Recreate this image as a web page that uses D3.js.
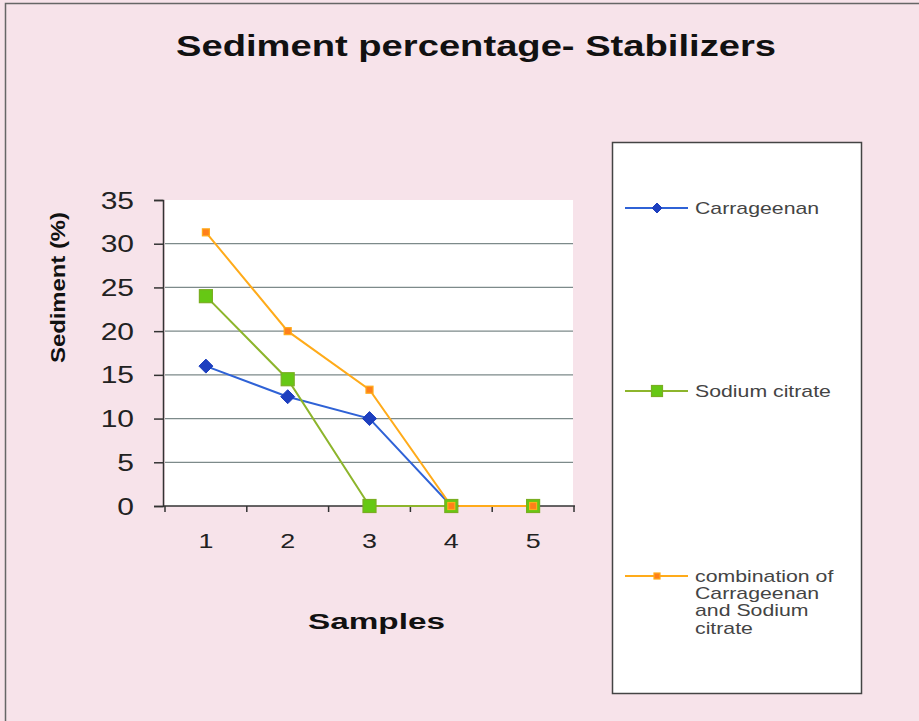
<!DOCTYPE html>
<html>
<head>
<meta charset="utf-8">
<script src="https://cdn.jsdelivr.net/npm/d3@7"></script>
<style>
  html, body { margin: 0; padding: 0; background: #f7e3ea; }
  svg { display: block; }
</style>
</head>
<body>
<svg id="chart" width="919" height="721"></svg>
<script>
// Sediment (%) per sample for each stabilizer
const samples = ["1", "2", "3", "4", "5"];
const yTicks = [0, 5, 10, 15, 20, 25, 30, 35];
const carrageenan = [16, 12.5, 10, 0, 0];
const sodiumCitrate = [24, 14.5, 0, 0, 0];
const combination = [31.3, 20, 13.3, 0, 0];
const seriesNames = ["Carrageenan", "Sodium citrate", "combination of Carrageenan and Sodium citrate"];

const series = [
  { name: seriesNames[0], values: carrageenan, line: "#2f62d6", fill: "#1d3fbf", stroke: "#1d3fbf", shape: "diamond", size: 7 },
  { name: seriesNames[1], values: sodiumCitrate, line: "#8db52c", fill: "#66c814", stroke: "#7aae22", shape: "square", size: 13 },
  { name: seriesNames[2], values: combination, line: "#ffab1a", fill: "#ff7f1a", stroke: "#ffab1a", shape: "square", size: 7 }
];

const svg = d3.select("#chart");
const font = "Arial, 'Liberation Sans', sans-serif";

// text drawn with a horizontal stretch
function wideText(g, x, y, str, o) {
  return g.append("text")
    .attr("transform", `translate(${x},${y}) scale(${o.sx || 1},1)`)
    .attr("text-anchor", o.anchor || "start")
    .attr("dy", o.dy || 0)
    .attr("font-family", font)
    .attr("font-weight", o.bold ? "bold" : "normal")
    .attr("font-size", o.size)
    .attr("fill", o.fill || "#111")
    .text(str);
}

// outer frame
svg.append("rect").attr("x", 5.5).attr("y", 3.5).attr("width", 930).attr("height", 740)
  .attr("fill", "#f7e3ea").attr("stroke", "#666").attr("stroke-width", 1.5);

const plot = { left: 165, right: 573, top: 200, bottom: 506 };

const x = d3.scaleBand().domain(samples).range([plot.left, plot.right + 1]).padding(0);
const y = d3.scaleLinear().domain([0, 35]).range([plot.bottom, plot.top]);

// plot background
svg.append("rect").attr("x", plot.left).attr("y", plot.top)
  .attr("width", plot.right - plot.left).attr("height", plot.bottom - plot.top)
  .attr("fill", "#ffffff");

// horizontal gridlines
svg.append("g").selectAll("line").data(yTicks.filter(d => d > 0 && d < 35)).join("line")
  .attr("x1", plot.left).attr("x2", plot.right)
  .attr("y1", d => y(d)).attr("y2", d => y(d))
  .attr("stroke", "#7d8a8a").attr("stroke-width", 1.3);

// y axis (line and ticks from d3, labels stretched separately)
const yAxis = svg.append("g").attr("transform", `translate(${plot.left - 2},0)`)
  .call(d3.axisLeft(y).tickValues(yTicks).tickSize(9).tickFormat(""));
yAxis.select(".domain").attr("stroke", "#333").attr("stroke-width", 1.5);
yAxis.selectAll(".tick line").attr("stroke", "#333").attr("stroke-width", 1.5);
const yLab = svg.append("g");
yTicks.forEach(t => {
  wideText(yLab, 134, y(t), String(t), { size: 24, sx: 1.25, anchor: "end", dy: "0.36em", fill: "#222" });
});

// x axis: ticks at band edges, labels at band centres
const xAxisG = svg.append("g").attr("transform", `translate(0,${plot.bottom})`);
xAxisG.append("line").attr("x1", plot.left - 2).attr("x2", plot.right + 2)
  .attr("y1", 0).attr("y2", 0).attr("stroke", "#333").attr("stroke-width", 1.5);
const edges = samples.map(s => x(s)).concat([x(samples[samples.length - 1]) + x.bandwidth()]);
xAxisG.selectAll("line.tk").data(edges).join("line").attr("class", "tk")
  .attr("x1", d => d).attr("x2", d => d).attr("y1", 0).attr("y2", 6)
  .attr("stroke", "#333").attr("stroke-width", 1.5);
samples.forEach(s => {
  wideText(xAxisG, x(s) + x.bandwidth() / 2, 42, s, { size: 21, sx: 1.28, anchor: "middle", fill: "#222" });
});

// lines and markers
const cx = (d, i) => x(samples[i]) + x.bandwidth() / 2;
const line = d3.line().x((d, i) => cx(d, i)).y(d => y(d));

series.forEach(s => {
  svg.append("path").datum(s.values).attr("d", line)
    .attr("fill", "none").attr("stroke", s.line).attr("stroke-width", 2);
});

function marker(g, s, px, py) {
  if (s.shape === "diamond") {
    const r = s.size;
    g.append("path")
      .attr("d", `M${px},${py - r}L${px + r},${py}L${px},${py + r}L${px - r},${py}Z`)
      .attr("fill", s.fill).attr("stroke", s.stroke).attr("stroke-width", 1);
  } else {
    const h = s.size / 2;
    g.append("rect").attr("x", px - h).attr("y", py - h).attr("width", s.size).attr("height", s.size)
      .attr("fill", s.fill).attr("stroke", s.stroke).attr("stroke-width", 1.2);
  }
}

const markers = svg.append("g");
series.forEach(s => {
  s.values.forEach((v, i) => marker(markers, s, cx(v, i), y(v)));
});

// title
svg.append("text").attr("x", 176).attr("y", 56)
  .attr("textLength", 600).attr("lengthAdjust", "spacingAndGlyphs")
  .attr("font-family", font).attr("font-weight", "bold").attr("font-size", 30).attr("fill", "#111")
  .text("Sediment percentage- Stabilizers");

// axis titles
svg.append("text").attr("transform", "translate(65,287.5) rotate(-90)").attr("text-anchor", "middle")
  .attr("textLength", 151).attr("lengthAdjust", "spacingAndGlyphs")
  .attr("font-family", font).attr("font-weight", "bold").attr("font-size", 20).attr("fill", "#111")
  .text("Sediment (%)");
svg.append("text").attr("x", 308).attr("y", 629)
  .attr("textLength", 137).attr("lengthAdjust", "spacingAndGlyphs")
  .attr("font-family", font).attr("font-weight", "bold").attr("font-size", 22).attr("fill", "#111")
  .text("Samples");

// legend
const lg = svg.append("g");
lg.append("rect").attr("x", 612.5).attr("y", 142.5).attr("width", 249).attr("height", 551)
  .attr("fill", "#ffffff").attr("stroke", "#444").attr("stroke-width", 1.5);
const legendRows = [
  { y: 208, lines: ["Carrageenan"] },
  { y: 391, lines: ["Sodium citrate"] },
  { y: 576, lines: ["combination of", "Carrageenan", "and Sodium", "citrate"] }
];
series.forEach((s, i) => {
  const r = legendRows[i];
  lg.append("line").attr("x1", 625).attr("x2", 688).attr("y1", r.y).attr("y2", r.y)
    .attr("stroke", s.line).attr("stroke-width", 2);
  const ms = Object.assign({}, s, { size: s.shape === "diamond" ? 5 : (i === 1 ? 11 : 6) });
  marker(lg, ms, 657, r.y);
  const t = lg.append("text")
    .attr("transform", `translate(695,${r.y + 5.5}) scale(1.33,1)`)
    .attr("font-family", font).attr("font-size", 16).attr("fill", "#444");
  r.lines.forEach((ln, k) => {
    t.append("tspan").attr("x", 0).attr("y", k * 17.5).text(ln);
  });
});
</script>
</body>
</html>
